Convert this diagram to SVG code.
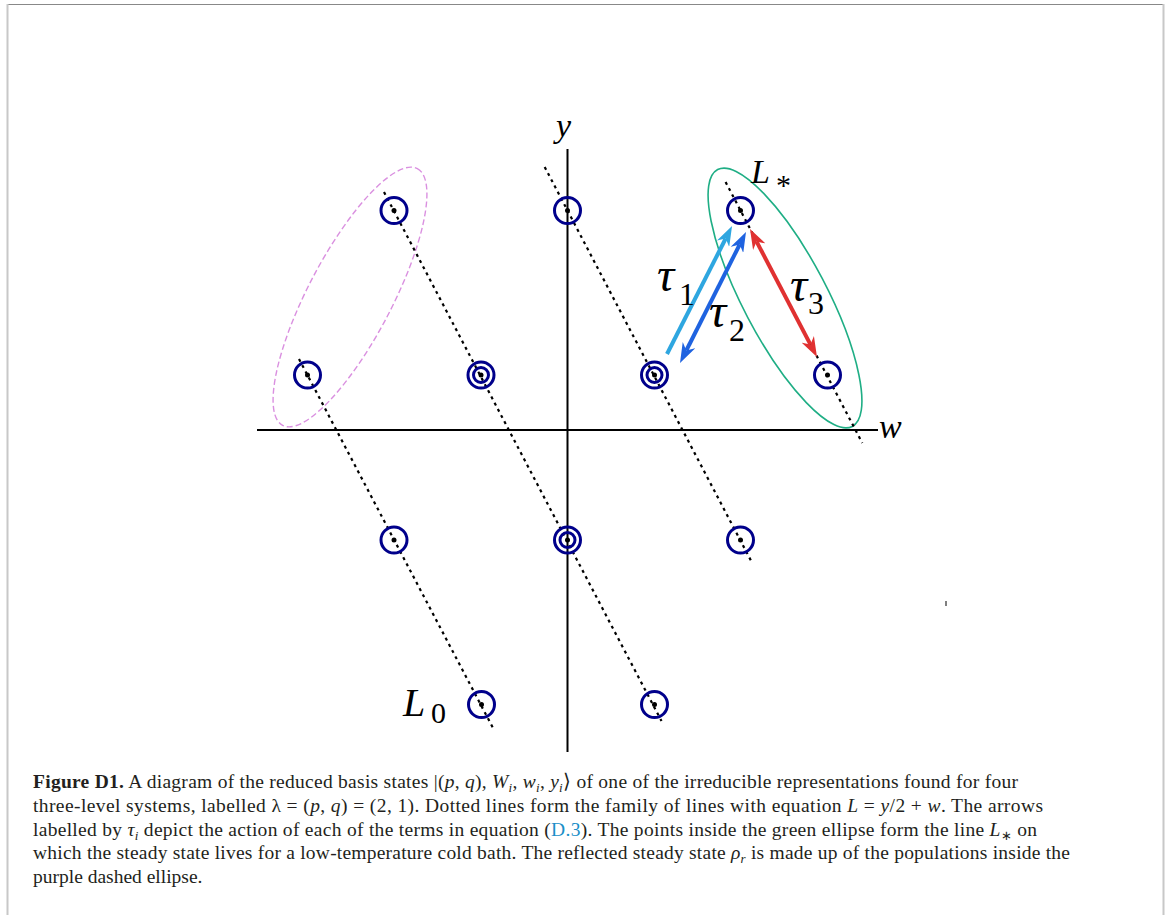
<svg xmlns="http://www.w3.org/2000/svg" width="1167" height="915" viewBox="0 0 1167 915">
<style>
.pt{fill:none;stroke:#00008B;stroke-width:3}
.dot{fill:#000}
.dl{stroke:#000;stroke-width:2.2;stroke-dasharray:3 4;fill:none}
.ax{stroke:#000;stroke-width:2;fill:none}
.m{font-family:"Liberation Serif",serif;font-style:italic;fill:#000}
.n{font-family:"Liberation Serif",serif;fill:#000}
.cap{font-family:"Liberation Serif",serif;font-size:19.5px;fill:#231f20}
.i{font-style:italic}
</style>
<defs>
<marker id="ah1" markerUnits="userSpaceOnUse" viewBox="0 0 20 14" markerWidth="20" markerHeight="14" refX="6" refY="7" orient="auto-start-reverse"><path d="M0,0 L20,7 L0,14 L6,7 Z" fill="#2EA6E0"/></marker>
<marker id="ah2" markerUnits="userSpaceOnUse" viewBox="0 0 20 14" markerWidth="20" markerHeight="14" refX="6" refY="7" orient="auto-start-reverse"><path d="M0,0 L20,7 L0,14 L6,7 Z" fill="#1F63E0"/></marker>
<marker id="ah3" markerUnits="userSpaceOnUse" viewBox="0 0 20 14" markerWidth="20" markerHeight="14" refX="6" refY="7" orient="auto-start-reverse"><path d="M0,0 L20,7 L0,14 L6,7 Z" fill="#E03131"/></marker>
</defs>
<rect width="1167" height="915" fill="#fff"/>
<!-- frame -->
<line x1="8" y1="4.5" x2="1163" y2="4.5" stroke="#888" stroke-width="1.2"/>
<line x1="7.5" y1="4" x2="7.5" y2="915" stroke="#c8c8c8" stroke-width="2"/>
<line x1="1163.5" y1="4" x2="1163.5" y2="915" stroke="#c8c8c8" stroke-width="2"/>
<line x1="946" y1="601" x2="946" y2="606" stroke="#000" stroke-width="1"/>

<!-- axes -->
<g id="axes">
<line class="ax" x1="567.5" y1="149" x2="567.5" y2="752"/>
<line class="ax" x1="257" y1="430" x2="878" y2="430"/>
<text class="m" x="556" y="137" font-size="34">y</text>
<text class="m" x="879" y="438" font-size="34">w</text>
</g>

<!-- ellipses -->
<g id="ellipses">
<ellipse id="green-ellipse" cx="785" cy="298" rx="145" ry="42" transform="rotate(62.33 785 298)" fill="none" stroke="#1FAE85" stroke-width="1.6"/>
<ellipse id="purple-ellipse" cx="350" cy="297" rx="145" ry="42" transform="rotate(-62.33 350 297)" fill="none" stroke="#DA90E0" stroke-width="1.4" stroke-dasharray="6 3"/>
</g>

<!-- dotted lines -->
<g id="connectors">
<line class="dl" x1="299" y1="359" x2="493" y2="728"/>
<line class="dl" x1="384" y1="192" x2="661.5" y2="721"/>
<line class="dl" x1="544.7" y1="167" x2="752.2" y2="563"/>
<line class="dl" x1="725.6" y1="182" x2="862.3" y2="443"/>
<line id="tau1" x1="667" y1="354" x2="725.7" y2="238.5" stroke="#2EA6E0" stroke-width="4" marker-end="url(#ah1)"/>
<line id="tau2" x1="686.3" y1="350.5" x2="739.7" y2="244.5" stroke="#1F63E0" stroke-width="4" marker-start="url(#ah2)" marker-end="url(#ah2)"/>
<line id="tau3" x1="756.5" y1="241.4" x2="810.5" y2="344.6" stroke="#E03131" stroke-width="4" marker-start="url(#ah3)" marker-end="url(#ah3)"/>
</g>

<!-- nodes -->
<g id="n-394-210"><circle class="pt" cx="394" cy="210.5" r="13"/><circle class="dot" cx="394" cy="210.5" r="2.5"/></g>
<g id="n-567-210"><circle class="pt" cx="567.5" cy="210.5" r="13"/><circle class="dot" cx="567.5" cy="210.5" r="2.5"/></g>
<g id="n-740-210"><circle class="pt" cx="740.5" cy="210.5" r="13"/><circle class="dot" cx="740.5" cy="210.5" r="2.5"/></g>
<g id="n-308-375"><circle class="pt" cx="307.5" cy="375" r="13"/><circle class="dot" cx="307.5" cy="375" r="2.5"/></g>
<g id="n-481-375"><circle class="pt" cx="481" cy="375" r="13"/><circle class="pt" cx="481" cy="375" r="7.5" stroke-width="2.5"/><circle class="dot" cx="481" cy="375" r="2.5"/></g>
<g id="n-654-375"><circle class="pt" cx="654.5" cy="375" r="13"/><circle class="pt" cx="654.5" cy="375" r="7.5" stroke-width="2.5"/><circle class="dot" cx="654.5" cy="375" r="2.5"/></g>
<g id="n-827-375"><circle class="pt" cx="827.5" cy="375" r="13"/><circle class="dot" cx="827.5" cy="375" r="2.5"/></g>
<g id="n-394-540"><circle class="pt" cx="394" cy="540" r="13"/><circle class="dot" cx="394" cy="540" r="2.5"/></g>
<g id="n-567-540"><circle class="pt" cx="567.5" cy="540" r="13"/><circle class="pt" cx="567.5" cy="540" r="7.5" stroke-width="2.5"/><circle class="dot" cx="567.5" cy="540" r="2.5"/></g>
<g id="n-740-540"><circle class="pt" cx="740.5" cy="540" r="13"/><circle class="dot" cx="740.5" cy="540" r="2.5"/></g>
<g id="n-481-705"><circle class="pt" cx="481.5" cy="704.5" r="13"/><circle class="dot" cx="481.5" cy="704.5" r="2.5"/></g>
<g id="n-654-705"><circle class="pt" cx="654.5" cy="704.5" r="13"/><circle class="dot" cx="654.5" cy="704.5" r="2.5"/></g>

<!-- labels -->
<g id="labels">
<text class="m" x="657" y="291" font-size="48">τ</text><text class="n" x="679" y="305" font-size="32">1</text>
<text class="m" x="709" y="327" font-size="48">τ</text><text class="n" x="729" y="341" font-size="32">2</text>
<text class="m" x="790" y="301" font-size="48">τ</text><text class="n" x="808" y="314" font-size="32">3</text>
<text class="m" x="751" y="183" font-size="34">L</text><text class="n" x="776" y="195" font-size="30">*</text>
<text class="m" x="403" y="716" font-size="40">L</text><text class="n" x="431" y="723" font-size="30">0</text>
</g>

<!-- caption -->
<g id="caption" class="cap">
<text x="33" y="788" textLength="985" lengthAdjust="spacing"><tspan font-weight="bold">Figure D1.</tspan> A diagram of the reduced basis states |(<tspan class="i">p</tspan>, <tspan class="i">q</tspan>), <tspan class="i">W</tspan><tspan class="i" font-size="13" dy="4">i</tspan><tspan dy="-4">, </tspan><tspan class="i">w</tspan><tspan class="i" font-size="13" dy="4">i</tspan><tspan dy="-4">, </tspan><tspan class="i">y</tspan><tspan class="i" font-size="13" dy="4">i</tspan><tspan dy="-4">⟩ of one of the irreducible representations found for four</tspan></text>
<text x="33" y="812" textLength="1010" lengthAdjust="spacing">three-level systems, labelled λ = (<tspan class="i">p</tspan>, <tspan class="i">q</tspan>) = (2, 1). Dotted lines form the family of lines with equation <tspan class="i">L</tspan> = <tspan class="i">y</tspan>/2 + <tspan class="i">w</tspan>. The arrows</text>
<text x="33" y="836" textLength="1004" lengthAdjust="spacing">labelled by <tspan class="i">τ</tspan><tspan class="i" font-size="13" dy="4">i</tspan><tspan dy="-4"> depict the action of each of the terms in equation (</tspan><tspan fill="#1A8FC8">D.3</tspan>). The points inside the green ellipse form the line <tspan class="i">L</tspan><tspan font-size="13" dy="4">∗</tspan><tspan dy="-4"> on</tspan></text>
<text x="33" y="859" textLength="1037" lengthAdjust="spacing">which the steady state lives for a low-temperature cold bath. The reflected steady state <tspan class="i">ρ</tspan><tspan class="i" font-size="13" dy="4">r</tspan><tspan dy="-4"> is made up of the populations inside the</tspan></text>
<text x="33" y="883">purple dashed ellipse.</text>
</g>
</svg>
